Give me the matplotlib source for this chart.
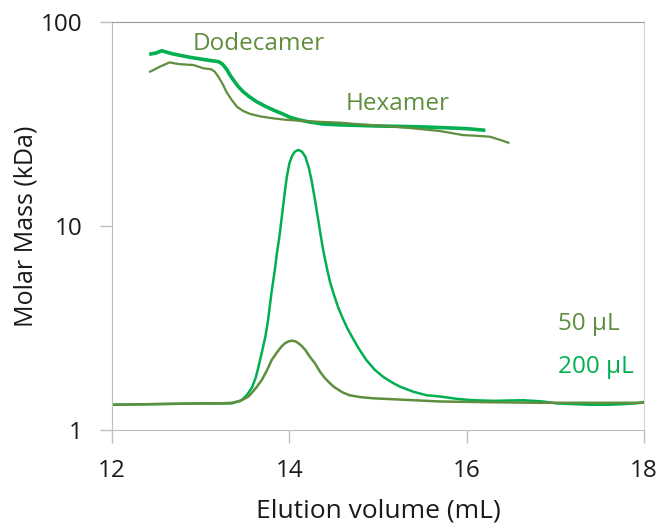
import matplotlib
matplotlib.use("Agg")
import matplotlib.pyplot as plt
from matplotlib.ticker import FixedLocator, NullLocator

# ---------------------------------- data ----------------------------------
# molar mass traces (kDa) across the peak
mass_x_200 = [12.44, 12.50, 12.56, 12.62, 12.69, 12.88, 13.07, 13.20, 13.24, 13.27, 13.30, 13.33,
              13.37, 13.42, 13.48, 13.55, 13.63, 13.72, 13.82, 13.92, 14.01, 14.10, 14.20, 14.30,
              14.38, 14.46, 14.57, 14.80, 15.00, 15.21, 15.50, 15.77, 16.00, 16.19]
mass_y_200 = [69.7, 70.5, 72.3, 71.0, 69.7, 67.1, 65.1, 63.9, 62.5, 60.4, 58.0, 55.0,
              51.9, 48.5, 45.5, 43.0, 40.7, 38.8, 37.0, 35.5, 34.1, 33.2, 32.5, 32.0,
              31.6, 31.5, 31.3, 31.1, 30.9, 30.8, 30.6, 30.3, 30.0, 29.5]

mass_x_50 = [12.43, 12.48, 12.54, 12.60, 12.65, 12.71, 12.77, 12.92, 13.03, 13.12, 13.16, 13.20,
             13.25, 13.29, 13.35, 13.41, 13.48, 13.56, 13.68, 13.82, 13.95, 14.12, 14.35, 14.57,
             14.80, 15.10, 15.40, 15.70, 15.96, 16.10, 16.26, 16.37, 16.47]
mass_y_50 = [57.1, 58.5, 60.4, 62.0, 63.4, 62.6, 62.1, 61.5, 59.3, 58.6, 57.0, 53.9,
             49.5, 45.5, 41.5, 38.4, 36.6, 35.4, 34.4, 33.7, 33.2, 32.8, 32.4, 32.1,
             31.5, 30.9, 30.1, 29.2, 27.9, 27.7, 27.4, 26.5, 25.6]

# detector trace for the 200 uL and 50 uL injections
sig_x_200 = [12.00, 12.50, 13.00, 13.20, 13.35, 13.40, 13.46, 13.52, 13.58, 13.62, 13.65, 13.69,
             13.73, 13.76, 13.78, 13.80, 13.82, 13.84, 13.86, 13.89, 13.91, 13.93, 13.95, 13.97,
             14.00, 14.03, 14.06, 14.10, 14.14, 14.18, 14.22, 14.25, 14.29, 14.32, 14.35, 14.38,
             14.42, 14.46, 14.50, 14.55, 14.60, 14.65, 14.70, 14.78, 14.87, 14.96, 15.06, 15.17,
             15.25, 15.40, 15.55, 15.70, 15.90, 16.07, 16.30, 16.64, 16.86, 17.02, 17.20, 17.39,
             17.60, 17.77, 17.90, 17.99]
sig_y_200 = [1.33, 1.34, 1.35, 1.35, 1.35, 1.37, 1.40, 1.48, 1.62, 1.80, 2.02, 2.40,
             2.87, 3.45, 4.05, 4.75, 5.44, 6.25, 7.35, 9.00, 10.6, 12.5, 14.8, 17.2,
             20.2, 22.0, 23.1, 23.6, 23.2, 21.9, 19.3, 16.8, 13.4, 11.1, 9.21, 7.70,
             6.32, 5.30, 4.65, 4.00, 3.55, 3.18, 2.90, 2.52, 2.20, 1.98, 1.82, 1.70,
             1.63, 1.54, 1.48, 1.46, 1.42, 1.40, 1.39, 1.40, 1.38, 1.35, 1.34, 1.33,
             1.33, 1.34, 1.35, 1.37]

sig_x_50 = [12.00, 12.50, 13.00, 13.20, 13.35, 13.45, 13.54, 13.62, 13.69, 13.75, 13.80, 13.86,
            13.91, 13.95, 13.99, 14.03, 14.07, 14.10, 14.14, 14.18, 14.23, 14.29, 14.35, 14.40,
            14.45, 14.50, 14.60, 14.68, 14.80, 14.95, 15.25, 15.70, 16.20, 16.83, 17.40, 17.99]
sig_y_50 = [1.33, 1.34, 1.35, 1.35, 1.36, 1.39, 1.46, 1.60, 1.76, 1.97, 2.20, 2.40,
            2.56, 2.66, 2.72, 2.74, 2.72, 2.67, 2.58, 2.47, 2.29, 2.12, 1.92, 1.80,
            1.71, 1.63, 1.53, 1.48, 1.45, 1.43, 1.41, 1.38, 1.37, 1.36, 1.36, 1.36]

x_ticks = [12, 14, 16, 18]
y_ticks = [1, 10, 100]

c_50 = "#5E8E3E"
c_200 = "#00B050"
grey = "#BFBFBF"

plt.rcParams["font.family"] = ["Open Sans", "DejaVu Sans"]

fig = plt.figure(figsize=(6.61, 5.27), dpi=100)
ax = fig.add_axes([0.1694, 0.184, 0.8049, 0.7743])

# ---------------------------------- traces ----------------------------------
ax.plot(sig_x_200, sig_y_200, color=c_200, lw=1.8, solid_joinstyle="round")
ax.plot(sig_x_50, sig_y_50, color=c_50, lw=1.8, solid_joinstyle="round")
ax.plot(mass_x_200, mass_y_200, color=c_200, lw=2.6, solid_joinstyle="round")
ax.plot(mass_x_50, mass_y_50, color=c_50, lw=1.6, solid_joinstyle="round")

ax.set_yscale("log")
ax.set_xlim(12, 18)
ax.set_ylim(1, 100)
ax.xaxis.set_major_locator(FixedLocator(x_ticks))
ax.yaxis.set_major_locator(FixedLocator(y_ticks))
ax.yaxis.set_minor_locator(NullLocator())
ax.set_xticklabels([str(t) for t in x_ticks])
ax.set_yticklabels([str(t) for t in y_ticks])

ax.tick_params(axis="both", length=9, width=1, color=grey, labelsize=17.5,
               labelcolor="#1a1a1a", pad=12)
for side in ["left", "bottom"]:
    ax.spines[side].set_color(grey)
ax.spines["top"].set_color("#9A9A9A")
ax.spines["right"].set_color("#D4D4D4")

ax.set_xlabel("Elution volume (mL)", fontsize=19, color="#1a1a1a", labelpad=11)
ax.set_ylabel("Molar Mass (kDa)", fontsize=18, color="#1a1a1a", labelpad=2)

# ---------------------------------- annotations ----------------------------------
ax.text(12.91, 78, "Dodecamer", color=c_50, fontsize=17.5, ha="left", va="center")
ax.text(14.63, 39.5, "Hexamer", color=c_50, fontsize=17.5, ha="left", va="center")
ax.text(17.03, 3.3, "50 µL", color=c_50, fontsize=17.5, ha="left", va="center")
ax.text(17.03, 2.03, "200 µL", color=c_200, fontsize=17.5, ha="left", va="center")

fig.savefig("out.png", dpi=100)
